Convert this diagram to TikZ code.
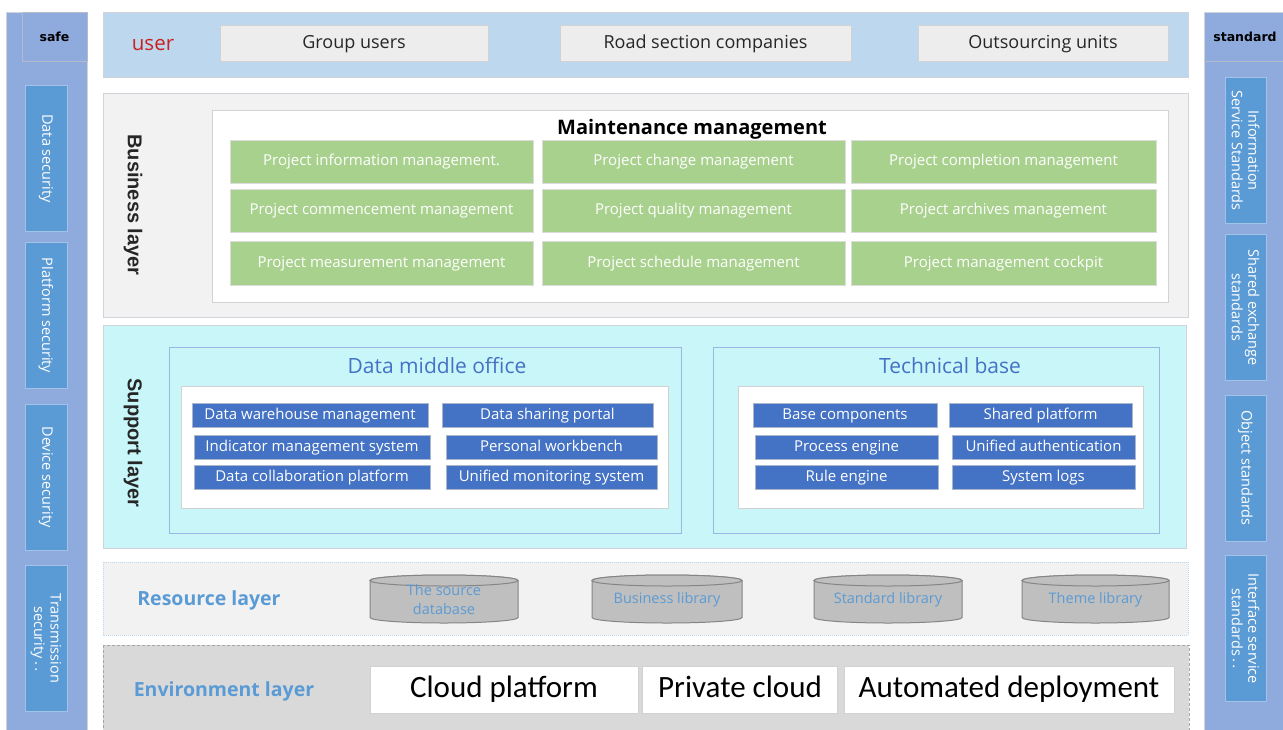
\documentclass[tikz,border=0pt]{standalone}
\usepackage{fontspec}
\setmainfont{Open Sans}
\newfontfamily\calfont{Carlito}
\newfontfamily\arialfont{Liberation Sans}
\newfontfamily\tahfont{DejaVu Sans}
\definecolor{SideClr}{HTML}{8FAADC}
\definecolor{SideBoxClr}{HTML}{5B9BD5}
\definecolor{SideBoxLine}{HTML}{A4C2E8}
\definecolor{HdLine}{HTML}{B4BCCB}
\definecolor{PanelLine}{HTML}{D0D4DA}
\definecolor{UserClr}{HTML}{BDD7EE}
\definecolor{UserBoxClr}{HTML}{EDEDED}
\definecolor{UserBoxLine}{HTML}{D2D2D2}
\definecolor{UserRed}{HTML}{C9211E}
\definecolor{TextClr}{HTML}{262626}
\definecolor{PanelClr}{HTML}{F2F2F2}
\definecolor{GreenClr}{HTML}{A9D18E}
\definecolor{GreenLine}{HTML}{DCDCDC}
\definecolor{CyanClr}{HTML}{C9F6F9}
\definecolor{DeepBlue}{HTML}{4472C4}
\definecolor{FrameLine}{HTML}{9DB5E2}
\definecolor{BlueLine}{HTML}{AAB6CC}
\definecolor{DbClr}{HTML}{BFBFBF}
\definecolor{DbLine}{HTML}{858585}
\definecolor{EnvClr}{HTML}{D9D9D9}
\definecolor{EnvLine}{HTML}{A6A6A6}

\newcommand{\dbdrum}[4]{%
  \draw[dbline] (#2,580.5) -- (#2,617.5)
    arc[start angle=180,end angle=0,x radius={(#3-#2)/2},y radius=5.5]
    -- (#3,580.5)
    arc[start angle=0,end angle=-180,x radius={(#3-#2)/2},y radius=5.5] -- cycle;
  \draw[dbline] ({(#2+#3)/2},580.5) ellipse[x radius={(#3-#2)/2},y radius=5.5];
  \node[dbtext] (#1) at ({(#2+#3)/2},600) {#4};}

\tikzset{
  sidepanel/.style={draw=PanelLine,fill=SideClr},
  hdline/.style={draw=HdLine},
  hdtext/.style={text=black,font=\tahfont\bfseries\fontsize{12.5}{14}\selectfont},
  sidebox/.style={draw=SideBoxLine,fill=SideBoxClr,text=white,rotate=-90,
    minimum width=146,minimum height=42,inner sep=0pt,align=center,
    font=\fontsize{14.5}{16.5}\selectfont},
  userbox/.style={text height=13pt,text depth=3pt,draw=UserBoxLine,fill=UserBoxClr,
    text=TextClr,minimum height=36,inner sep=0pt,font=\fontsize{18}{20}\selectfont},
  layertext/.style={rotate=-90,text=TextClr,font=\arialfont\bfseries\fontsize{20}{22}\selectfont},
  greenbox/.style={text height=11pt,text depth=2.5pt,draw=GreenLine,fill=GreenClr,
    text=white,minimum width=303,minimum height=43,inner sep=0pt,
    font=\fontsize{15}{17}\selectfont},
  frame/.style={draw=FrameLine,fill=CyanClr},
  whitebox/.style={draw=UserBoxLine,fill=white},
  frametitle/.style={text=DeepBlue,font=\fontsize{21}{23}\selectfont},
  bluebox/.style={text height=11pt,text depth=2.5pt,draw=BlueLine,fill=DeepBlue,
    text=white,minimum height=24,inner sep=0pt,font=\fontsize{15}{17}\selectfont},
  basetext/.style={text=SideBoxClr,font=\bfseries\fontsize{19.5}{22}\selectfont},
  dbline/.style={draw=DbLine,fill=DbClr},
  dbtext/.style={text=SideBoxClr,align=center,font=\fontsize{14.5}{19}\selectfont},
  envbox/.style={text height=21pt,text depth=4.5pt,draw=EnvLine!50,fill=white,
    minimum height=47,inner sep=0pt,text=black,font=\calfont\fontsize{31}{33}\selectfont}
}

\begin{document}
\begin{tikzpicture}[x=1pt,y=-1pt,line width=1pt]
\useasboundingbox (0,0) rectangle (1283,729);

% safe column
\draw[sidepanel] (6,12) rectangle (87,735);
\draw[hdline] (22,12) rectangle (87,61);
\node[hdtext] (safe) at (54.5,37) {safe};
\node[sidebox] (datasec) at (46,158.5) {Data security};
\node[sidebox] (platsec) at (46,315.5) {Platform security};
\node[sidebox] (devsec) at (46,477) {Device security};
\node[sidebox] (transsec) at (46,638.5) {Transmission\\security \rotatebox{90}{:}};

% standard column
\draw[sidepanel] (1204,12) rectangle (1290,735);
\draw[hdline] (1204,61) -- (1283,61);
\node[hdtext] (standard) at (1245,37) {standard};
\node[sidebox,minimum height=41] (infostd) at (1245.5,150.5) {Information\\Service Standards};
\node[sidebox,minimum height=41] (sharestd) at (1245.5,307.5) {Shared exchange\\standards};
\node[sidebox,minimum height=41] (objstd) at (1245.5,468) {Object standards};
\node[sidebox,minimum height=41] (ifacestd) at (1245.5,628.5) {Interface service\\standards \rotatebox{90}{:}};

% user
\draw[draw=PanelLine,fill=UserClr] (103,12) rectangle (1188,77);
\node[text height=14pt,text depth=3pt,text=UserRed,font=\fontsize{20.5}{22}\selectfont] (user) at (153,45) {user};
\node[userbox,minimum width=268] (groupusers) at (354,43) {Group users};
\node[userbox,minimum width=291] (roadcomp) at (705.5,43) {Road section companies};
\node[userbox,minimum width=250] (outunits) at (1043,43) {Outsourcing units};

% business layer
\draw[draw=PanelLine,fill=PanelClr] (103,93) rectangle (1188,317);
\node[layertext] (business) at (133,205) {Business layer};
\draw[whitebox] (212,110) rectangle (1168,302);
\node[text=black,font=\bfseries\fontsize{20}{22}\selectfont] (maint) at (692,129) {Maintenance management};
\node[greenbox] (proinfo) at (381.5,161.5) {Project information management.};
\node[greenbox] (prochange) at (693.5,161.5) {Project change management};
\node[greenbox,minimum width=305] (procompl) at (1003.5,161.5) {Project completion management};
\node[greenbox] (procomm) at (381.5,210.5) {Project commencement management};
\node[greenbox] (proquality) at (693.5,210.5) {Project quality management};
\node[greenbox,minimum width=305] (proarch) at (1003.5,210.5) {Project archives management};
\node[greenbox,minimum height=44] (promeas) at (381.5,263) {Project measurement management};
\node[greenbox,minimum height=44] (prosched) at (693.5,263) {Project schedule management};
\node[greenbox,minimum width=305,minimum height=44] (procockpit) at (1003.5,263) {Project management cockpit};

% support layer
\draw[draw=PanelLine,fill=CyanClr] (103,325) rectangle (1186,548);
\node[layertext] (support) at (133,443) {Support layer};
\draw[frame] (169,347) rectangle (681,533);
\node[frametitle] (dmo) at (437,366) {Data middle office};
\draw[whitebox] (181,386) rectangle (668,508);
\node[bluebox,minimum width=236] (dwm) at (310,415) {Data warehouse management};
\node[bluebox,minimum width=211] (dsp) at (547.5,415) {Data sharing portal};
\node[bluebox,minimum width=236] (ims) at (312,447) {Indicator management system};
\node[bluebox,minimum width=211] (pwb) at (551.5,447) {Personal workbench};
\node[bluebox,minimum width=236] (dcp) at (312,477) {Data collaboration platform};
\node[bluebox,minimum width=211] (ums) at (551.5,477) {Unified monitoring system};

\draw[frame] (713,347) rectangle (1159,533);
\node[frametitle] (techbase) at (950,366) {Technical base};
\draw[whitebox] (738,386) rectangle (1143,508);
\node[bluebox,minimum width=184] (basecomp) at (845,415) {Base components};
\node[bluebox,minimum width=183] (sharedplat) at (1040.5,415) {Shared platform};
\node[bluebox,minimum width=183] (procengine) at (846.5,447) {Process engine};
\node[bluebox,minimum width=183] (unifauth) at (1043.5,447) {Unified authentication};
\node[bluebox,minimum width=183] (ruleengine) at (846.5,477) {Rule engine};
\node[bluebox,minimum width=183] (syslogs) at (1043.5,477) {System logs};

% resource layer
\draw[draw=UserClr,fill=PanelClr,densely dotted] (103,562) rectangle (1188,635);
\node[basetext] (resource) at (209,600) {Resource layer};
\dbdrum{srcdb}{370}{518}{The source\\database}
\dbdrum{buslib}{592}{742}{Business library}
\dbdrum{stdlib}{814}{962}{Standard library}
\dbdrum{themelib}{1022}{1169}{Theme library}

% environment layer
\draw[draw=EnvLine,fill=EnvClr,densely dashed] (103,645) rectangle (1189,735);
\node[basetext] (environment) at (224,691) {Environment layer};
\node[envbox,minimum width=268] (cloud) at (504,689.5) {Cloud platform};
\node[envbox,minimum width=195] (private) at (740,689.5) {Private cloud};
\node[envbox,minimum width=330] (autodep) at (1009,689.5) {Automated deployment};

\end{tikzpicture}
\end{document}
